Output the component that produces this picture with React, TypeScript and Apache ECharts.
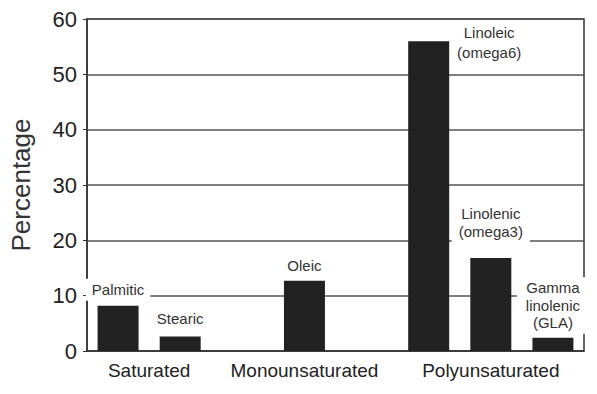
import React, { useEffect, useRef } from "react";
import * as echarts from "echarts";

// ---- data ----
const categories = [
  "Palmitic",
  "Stearic",
  "",
  "Oleic",
  "",
  "Linoleic (omega6)",
  "Linolenic (omega3)",
  "Gamma linolenic (GLA)",
];
const values: (number | null)[] = [8.2, 2.6, null, 12.7, null, 56.0, 16.8, 2.4];
const barLabels = [
  "Palmitic",
  "Stearic",
  "",
  "Oleic",
  "",
  "Linoleic\n(omega6)",
  "Linolenic\n(omega3)",
  "Gamma\nlinolenic\n(GLA)",
];
const groupOf = [
  "Saturated",
  "Saturated",
  "",
  "Monounsaturated",
  "",
  "Polyunsaturated",
  "Polyunsaturated",
  "Polyunsaturated",
];
const yMin = 0;
const yMax = 60;
const yStep = 10;
const yAxisTitle = "Percentage";

// ---- label layout (styles/positions only) ----
const FONT = "Liberation Sans, Arial, Helvetica, sans-serif";
const labelLayout: Record<number, any> = {
  0: { position: "top", distance: 5, padding: [2, 6, 2, 6], lineHeight: 18 },
  1: { position: "top", distance: 7, padding: [2, 6, 2, 6], lineHeight: 18 },
  3: { position: "top", distance: 4, padding: [2, 6, 2, 6], lineHeight: 18 },
  5: { position: ["100%", 0], align: "center", verticalAlign: "top", offset: [40, -19], padding: [0, 4, 0, 4], lineHeight: 20 },
  6: { position: "top", distance: 13, padding: [2, 7, 5, 7], lineHeight: 18 },
  7: { position: "top", distance: 4, padding: [2, 9, 2, 9], lineHeight: 17.5 },
};

export default function App() {
  const ref = useRef<HTMLDivElement>(null);

  useEffect(() => {
    if (!ref.current) return;
    const chart = echarts.init(ref.current, undefined, { renderer: "svg" });

    const groups: string[] = [];
    groupOf.forEach((g) => {
      if (g && !groups.includes(g)) groups.push(g);
    });
    const groupCenter = groups.map((g) => {
      const idx = groupOf.map((x, i) => (x === g ? i : -1)).filter((i) => i >= 0);
      return { name: g, c: idx.reduce((a, b) => a + b, 0) / idx.length + 0.5 };
    });

    const data = values.map((v, i) => {
      if (v === null) return { value: null };
      const l = labelLayout[i] || {};
      return {
        value: v,
        label: {
          show: true,
          formatter: barLabels[i],
          color: "#333",
          fontSize: 15,
          fontFamily: FONT,
          backgroundColor: "#fff",
          ...l,
        },
      };
    });

    chart.setOption({
      animation: false,
      backgroundColor: "#fff",
      grid: {
        left: 87,
        right: 13,
        top: 19,
        bottom: 43,
        show: true,
        borderColor: "#333",
        borderWidth: 1.5,
        containLabel: false,
      },
      xAxis: [
        {
          type: "category",
          data: categories,
          axisLine: { show: true, lineStyle: { color: "#333", width: 1.5 } },
          axisTick: { show: false },
          axisLabel: { show: false },
          splitLine: { show: false },
        },
        {
          type: "value",
          min: 0,
          max: categories.length,
          interval: 0.5,
          position: "bottom",
          axisLine: { show: false },
          axisTick: { show: false },
          splitLine: { show: false },
          axisLabel: {
            show: true,
            margin: 10,
            color: "#222",
            fontSize: 19,
            fontFamily: FONT,
            formatter: (v: number) => {
              const g = groupCenter.find((gc) => Math.abs(gc.c - v) < 1e-6);
              return g ? g.name : "";
            },
          },
        },
      ],
      yAxis: {
        type: "value",
        min: yMin,
        max: yMax,
        interval: yStep,
        name: yAxisTitle,
        nameLocation: "middle",
        nameGap: 53,
        nameRotate: 90,
        nameTextStyle: { color: "#333", fontSize: 26, fontFamily: FONT },
        axisLine: { show: true, lineStyle: { color: "#333", width: 1.5 } },
        axisTick: { show: true, length: 4, lineStyle: { color: "#333" } },
        axisLabel: { color: "#222", fontSize: 22, fontFamily: FONT, margin: 10 },
        splitLine: { show: true, lineStyle: { color: "#555", width: 1.5 } },
      },
      series: [
        {
          type: "bar",
          xAxisIndex: 0,
          data,
          barWidth: 41,
          itemStyle: { color: "#222" },
        },
      ],
    });

    return () => chart.dispose();
  }, []);

  return (
    <div
      ref={ref}
      style={{ position: "fixed", left: 0, top: 0, width: 597, height: 394, background: "#fff" }}
    />
  );
}
